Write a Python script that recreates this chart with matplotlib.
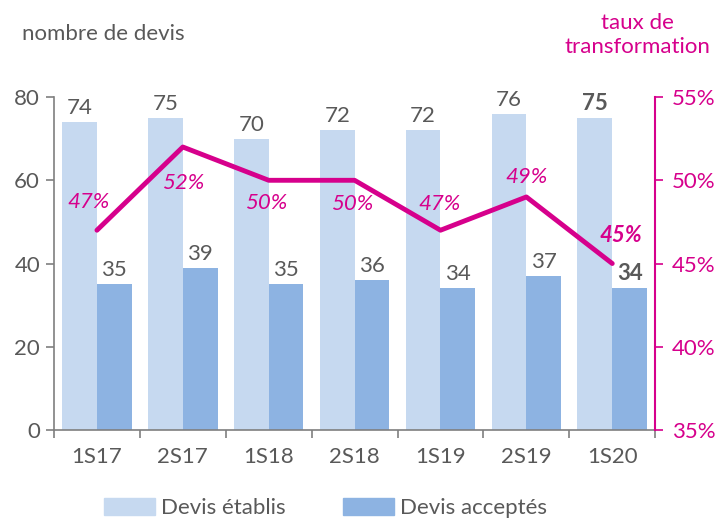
import numpy as np
import matplotlib.pyplot as plt
from matplotlib.patches import Patch

periods = ['1S17', '2S17', '1S18', '2S18', '1S19', '2S19', '1S20']
devis_etablis = [74, 75, 70, 72, 72, 76, 75]
devis_acceptes = [35, 39, 35, 36, 34, 37, 34]
taux = [47, 52, 50, 50, 47, 49, 45]

c_light = '#C6D9F0'
c_dark = '#8DB3E2'
c_mag = '#D6008C'
c_gray = '#595959'
c_axis = '#7F7F7F'

plt.rcParams['font.family'] = ['Lato', 'DejaVu Sans']

fig = plt.figure(figsize=(7.2, 5.21), dpi=100)
ax = fig.add_axes([0.075, 0.1747, 0.835, 0.639])
x = np.arange(len(periods))
w = 0.405

ax.bar(x - w / 2, devis_etablis, w, color=c_light)
ax.bar(x + w / 2, devis_acceptes, w, color=c_dark)

fs = 16
for i, (a, b) in enumerate(zip(devis_etablis, devis_acceptes)):
    bold = 'bold' if i == len(periods) - 1 else 'normal'
    ax.annotate(str(a), (x[i] - w / 2, a), xytext=(0, 3), textcoords='offset points',
                ha='center', va='bottom', fontsize=fs, color=c_gray, fontweight=bold)
    ax.annotate(str(b), (x[i] + w / 2, b), xytext=(0, 3), textcoords='offset points',
                ha='center', va='bottom', fontsize=fs, color=c_gray, fontweight=bold)

ax.set_xlim(-0.5, len(periods) - 0.5)
ax.set_ylim(0, 80)
ax.set_yticks([0, 20, 40, 60, 80])
ax.set_xticks(x)
ax.set_xticklabels(periods)
ax.set_xticks(np.arange(-0.5, len(periods)), minor=True)
ax.tick_params(axis='x', which='major', length=0, pad=12, labelsize=fs, labelcolor=c_gray)
ax.tick_params(axis='x', which='minor', length=6, color=c_axis, width=1.2)
ax.tick_params(axis='y', length=6, color=c_axis, width=1.2, labelsize=fs, labelcolor=c_gray, pad=4)
for s in ['top', 'right']:
    ax.spines[s].set_visible(False)
for s in ['left', 'bottom']:
    ax.spines[s].set_color(c_axis)
    ax.spines[s].set_linewidth(1.2)

ax2 = ax.twinx()
ax2.plot(x, taux, color=c_mag, linewidth=3.5, solid_capstyle='round', solid_joinstyle='round')
ax2.set_ylim(35, 55)
ax2.set_yticks([35, 40, 45, 50, 55])
ax2.set_yticklabels([f'{v}%' for v in [35, 40, 45, 50, 55]])
ax2.tick_params(axis='y', length=6, color=c_mag, width=1.2, labelsize=fs, labelcolor=c_mag, pad=6)
for s in ['top', 'left', 'bottom']:
    ax2.spines[s].set_visible(False)
ax2.spines['right'].set_color(c_mag)
ax2.spines['right'].set_linewidth(1.5)

offsets = [(-6, 20), (0, -26), (-2, -16), (-2, -17), (-1, 19), (0, 14), (6, 20)]
for i, v in enumerate(taux):
    bold = 'bold' if i == len(taux) - 1 else 'normal'
    ax2.annotate(f'{v}%', (x[i], v), xytext=offsets[i], textcoords='offset points',
                 ha='center', va='center', fontsize=fs, color=c_mag,
                 fontstyle='italic', fontweight=bold)

fig.text(0.03, 0.935, 'nombre de devis', fontsize=fs, color=c_gray, ha='left', va='center')
fig.text(0.886, 0.933, 'taux de\ntransformation', fontsize=fs, color=c_mag,
         ha='center', va='center', linespacing=1.2)

handles = [Patch(color=c_light, label='Devis établis'), Patch(color=c_dark, label='Devis acceptés')]
fig.legend(handles=handles, loc='center', bbox_to_anchor=(0.452, 0.025), ncol=2, frameon=False,
           fontsize=fs, labelcolor=c_gray, handlelength=2.3, handleheight=0.8,
           columnspacing=2.6, handletextpad=0.25)

fig.savefig('out.png', dpi=100)
